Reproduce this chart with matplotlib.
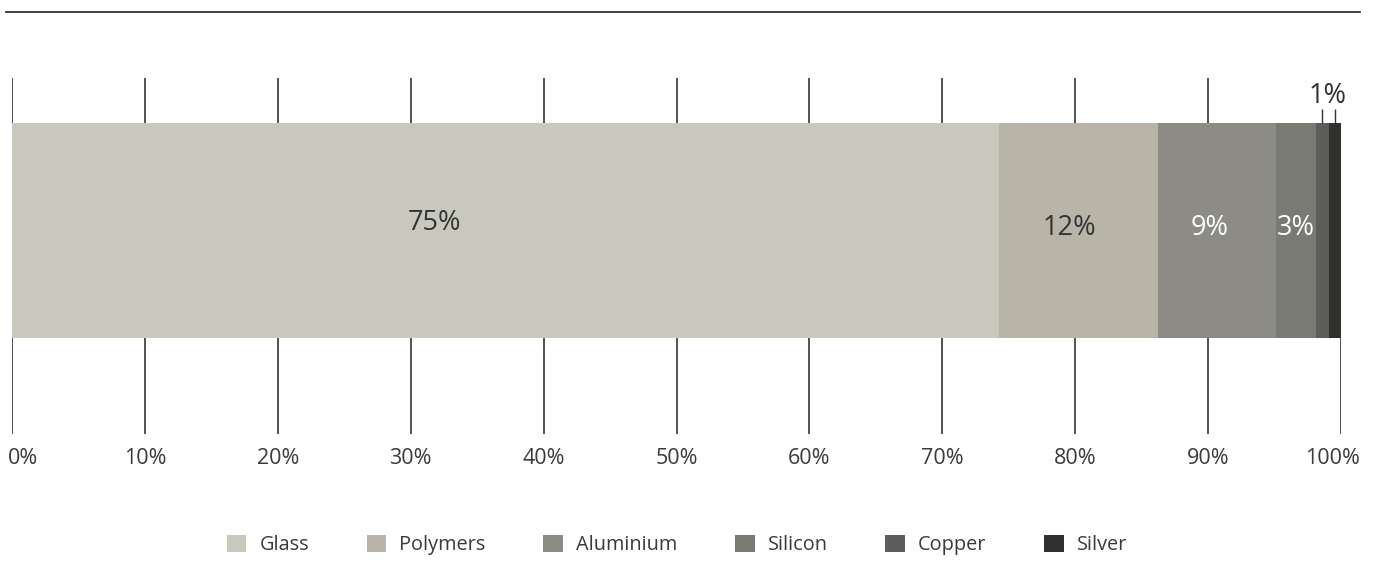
import numpy as np
import matplotlib.pyplot as plt

# material share of a PV module, percent
materials = ['Glass', 'Polymers', 'Aluminium', 'Silicon', 'Copper', 'Silver']
shares = [74.3, 11.9, 8.9, 3.0, 1.0, 0.9]
labels = ['75%', '12%', '9%', '3%', '', '']
colors = ['#c8c8bd', '#b8b5a8', '#8c8b86', '#7a7a74', '#5e5d5b', '#30302e']
text_colors = ['#333333', '#333333', 'white', 'white', 'white', 'white']
ticks = np.arange(0, 101, 10)
tick_labels = [f'{t}%' for t in ticks]

plt.rcParams['font.family'] = ['Open Sans', 'DejaVu Sans']

fig = plt.figure(figsize=(13.76, 5.86), dpi=100)
# axes spans 0%..100% horizontally, full height vertically (y in pixels)
ax = fig.add_axes([12 / 1376, 0, 1329 / 1376, 1])
ax.set_xlim(0, 100)
ax.set_ylim(586, 0)
ax.axis('off')

bar_y, bar_h = 230.5, 215
left = np.concatenate([[0], np.cumsum(shares)[:-1]])
bars = ax.barh(bar_y, shares, left=left, height=bar_h, color=colors, zorder=2)

# grid lines above and below the bar (no upper line at 100%, the 1% label sits there)
ax.vlines(ticks[:-1], 78, 123, color='#222222', lw=1.1, zorder=1)
ax.vlines(ticks, 338, 434, color='#222222', lw=1.1, zorder=1)
for t, lab in zip(ticks, tick_labels):
    if t == 0:
        ax.text(-0.3, 459, lab, ha='left', va='center', fontsize=15.5, color='#3a3a3a')
    elif t == 100:
        ax.text(101.4, 459, lab, ha='right', va='center', fontsize=15.5, color='#3a3a3a')
    else:
        ax.text(t, 459, lab, ha='center', va='center', fontsize=15.5, color='#3a3a3a')

# top rule
ax.plot([-0.45, 101.4], [12, 12], color='#333333', lw=1.3, clip_on=False)

# segment labels (glass label sits left of centre)
label_x = [31.8, 79.6, 90.1, 96.6]
for i, x in enumerate(label_x):
    ax.text(x, 223 if i == 0 else 228, labels[i], ha='center', va='center',
            fontsize=19.5, color=text_colors[i])

# small copper/silver callout
centres = left + np.array(shares) / 2
ax.vlines(centres[4:], 109, 123, color='#333333', lw=1.0, zorder=3)
ax.text(99.0, 96, '1%', ha='center', va='center', fontsize=19.5,
        color='#333333')

leg = ax.legend(bars, materials, loc='center', bbox_to_anchor=(677 / 1376, 1 - 545 / 586),
                bbox_transform=fig.transFigure, ncol=6, frameon=False,
                handlelength=1.0, handleheight=1.0, handletextpad=0.65,
                columnspacing=2.9, fontsize=14.3, borderpad=0)
for txt in leg.get_texts():
    txt.set_color('#3a3a3a')

fig.savefig('out.png', dpi=100)
